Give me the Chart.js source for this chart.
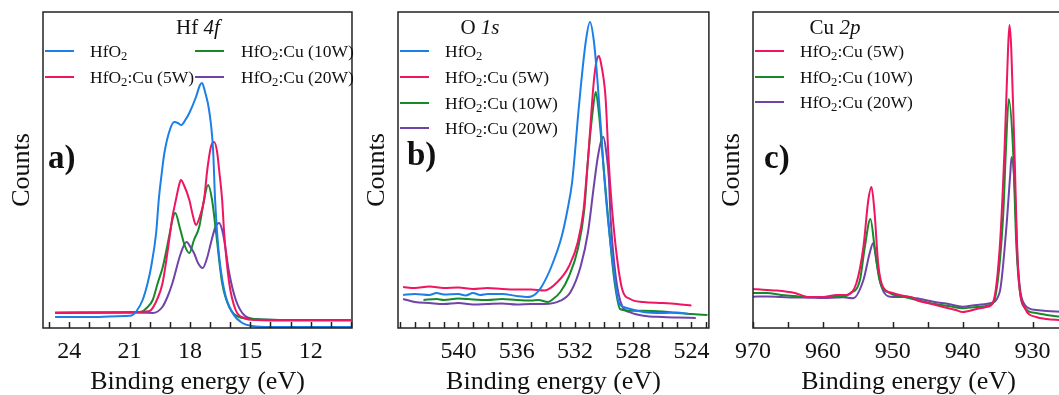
<!DOCTYPE html>
<html>
<head>
<meta charset="utf-8">
<script src="https://cdn.jsdelivr.net/npm/chart.js@4.4.1/dist/chart.umd.min.js"></script>
<style>
  html, body { margin: 0; padding: 0; overflow: hidden; }
  body { position: relative; width: 1059px; height: 395px; background: #fff; font-family: "Liberation Serif", "Times New Roman", serif; color: #111; }
  canvas { position: absolute; top: 0; }
  .txt { position: absolute; white-space: nowrap; line-height: 20px; height: 20px; }
  .sw { position: absolute; height: 2px; }
  .panel { font-weight: bold; font-size: 33px; line-height: 36px; height: 36px; }
  .ttl { font-size: 21px; transform: translateX(-50%); }
  .leg { font-size: 17.5px; }
  sub { font-size: 0.72em; vertical-align: -0.25em; line-height: 0; }
</style>
</head>
<body>
<canvas id="chartA" width="360" height="395" style="left:0px"></canvas>
<canvas id="chartB" width="360" height="395" style="left:355px"></canvas>
<canvas id="chartC" width="360" height="395" style="left:710px"></canvas>
<div id="overlay"></div>
<script>
// series names and colours
const names = ['HfO₂', 'HfO₂:Cu (5W)', 'HfO₂:Cu (10W)', 'HfO₂:Cu (20W)'];
const colors = ['#1c7fe8', '#ef1560', '#168a2a', '#7043a8'];

// tick labels shown on each x axis
const hfTicks = [24, 21, 18, 15, 12];
const oTicks = [540, 536, 532, 528, 524];
const cuTicks = [970, 960, 950, 940, 930];

// a) Hf 4f  (binding energy eV, counts a.u.)
const hfE0 = [24.7, 23, 22, 21.2, 20.9, 20.65, 20.35, 20.1, 19.93, 19.68, 19.55, 19.4, 19.27, 19.0, 18.78, 18.6, 18.43, 18.2, 18.03, 17.7, 17.5, 17.4, 17.25, 17.05, 16.85, 16.75, 16.58, 16.3, 15.88, 15.4, 14.9, 14, 12, 10];
const hfC0 = [11, 11, 11.5, 12, 12.5, 17, 28, 45, 61, 95, 128, 155, 175, 198, 206, 205, 203, 209, 215, 231, 243, 245, 236, 218, 178, 128, 78, 38, 15, 5, 2, 1, 1, 1];
const hfE1 = [24.7, 22, 20.6, 20.2, 20.0, 19.6, 19.36, 19.1, 18.87, 18.7, 18.55, 18.45, 18.3, 18.03, 17.85, 17.7, 17.5, 17.3, 17.14, 16.96, 16.8, 16.65, 16.55, 16.4, 16.3, 16.05, 15.73, 15.3, 14.73, 13, 10];
const hfC1 = [15, 15.5, 16, 16.5, 17, 30, 45, 78, 111, 128, 142, 148, 143, 128, 112, 103, 112, 128, 158, 181, 186, 176, 158, 128, 95, 45, 18, 10, 8, 7.5, 7.5];
const hfE2 = [24.7, 22, 20.6, 20.4, 20.15, 19.85, 19.6, 19.35, 19.0, 18.85, 18.73, 18.5, 18.25, 18.03, 17.8, 17.54, 17.3, 17.1, 16.9, 16.7, 16.4, 16.05, 15.55, 14.9, 13, 10];
const hfC2 = [15, 15.5, 16, 16.3, 20, 28, 45, 61, 95, 110, 115, 100, 82, 75, 88, 101, 128, 143, 128, 95, 45, 21, 11, 9, 8, 8];
const hfE3 = [24.7, 22, 20.3, 19.85, 19.37, 19.1, 18.87, 18.45, 18.17, 17.95, 17.8, 17.6, 17.37, 17.15, 16.96, 16.75, 16.55, 16.4, 16.3, 16.05, 15.72, 15.31, 14.73, 13, 10];
const hfC3 = [15.5, 15.5, 15.3, 15, 21, 32, 45, 75, 86, 80, 75, 65, 60, 70, 85, 100, 105, 98, 88, 55, 28, 13, 9, 8, 8];

// b) O 1s
const oE0 = [543.8, 543, 542, 541.5, 541, 540, 539.5, 539, 538.5, 538, 537, 536, 535.3, 535, 534.7, 534.3, 533.6, 532.9, 532.5, 532.2, 532.0, 531.8, 531.6, 531.25, 530.97, 530.7, 530.45, 530.2, 530.05, 529.8, 529.35, 529, 528.65, 528.2, 527.3, 526, 525, 524.2];
const oC0 = [33, 34, 33, 35, 33.5, 34, 32.5, 35, 33, 34, 34, 32, 31, 31.5, 34, 41, 62, 92, 119, 145, 175, 210, 241, 287, 306, 287, 247, 197, 164, 119, 59, 26, 21, 19, 16, 15, 15.5, 14];
const oE1 = [543.8, 543, 542, 541, 540, 539, 538, 537, 536, 535, 534.1, 533.2, 532.4, 531.8, 531.4, 531.2, 531.1, 530.7, 530.5, 530.35, 530.2, 529.9, 529.67, 529.45, 529.1, 528.76, 528.2, 527.3, 526, 525, 524];
const oC1 = [41, 40, 41.5, 40, 40.5, 39, 40, 39, 38.5, 38.5, 37.5, 46, 62, 86, 119, 152, 169, 247, 268, 272, 264, 231, 164, 119, 69, 39, 29, 26, 25, 24, 22.5];
const oE2 = [542.4, 541.5, 541, 540, 539, 538, 537, 536, 535, 534.5, 533.85, 533.5, 533, 532.4, 531.8, 531.35, 531.1, 530.8, 530.57, 530.35, 530.05, 529.67, 529.33, 528.9, 528.2, 527.3, 526, 525, 524, 522.9];
const oC2 = [28, 29, 28, 29.5, 28.5, 28, 29, 28, 27.5, 28, 26, 29, 36, 52, 79, 119, 169, 214, 236, 214, 164, 102, 52, 19, 17.3, 17.3, 16.5, 15, 14, 13];
const oE3 = [543.8, 543, 542, 541, 540, 539, 538, 537, 536, 535, 534.1, 533, 532.3, 531.6, 531.1, 530.7, 530.45, 530.2, 530.05, 529.83, 529.67, 529.55, 529.2, 528.76, 528.2, 527.3, 526, 525, 523.7];
const oC3 = [29, 26, 25, 24, 25, 23.5, 24, 24.5, 23.5, 24, 24, 27.3, 36, 62, 96, 142, 169, 187, 191, 174, 150, 110, 52, 22, 15.7, 12.3, 11, 10.5, 10];

// c) Cu 2p
const cuE1 = [970, 968, 966.6, 964, 962, 960, 958, 957.1, 956.6, 955.2, 954.2, 953.5, 953.05, 952.6, 952.1, 951.4, 950, 949, 948, 947, 946.6, 945, 942.8, 941, 940, 938, 936.6, 935.7, 934.7, 934, 933.5, 933.3, 933.05, 932.6, 932.1, 931.1, 929.5, 928, 926];
const cuC1 = [39, 38, 37.5, 35, 31, 31, 33, 33, 33, 45, 81, 128, 141, 115, 65, 41, 35, 33, 31.5, 30, 28, 25, 21, 18, 16, 19, 21, 25, 80, 180, 280, 303, 280, 180, 63, 20, 11, 9, 8];
const cuE2 = [970, 968, 966, 964, 962, 960, 958, 957.1, 956.1, 954.7, 954, 953.2, 952.6, 951.9, 950.4, 949, 948, 946.6, 944, 942, 940, 938, 936.1, 935.2, 934.2, 933.8, 933.4, 932.8, 932.3, 931.4, 929.5, 928, 926];
const cuC2 = [35, 35, 33, 32, 31, 31, 31.5, 31.3, 34.7, 48, 81, 109, 81, 48, 34.7, 32, 30.5, 28, 24, 22, 19.7, 21, 23, 36, 113, 180, 229, 180, 80, 23, 15, 13, 11.3];
const cuE3 = [970, 968, 966, 964, 962, 960, 958, 957.1, 955.7, 954.2, 953.3, 952.8, 952.3, 951.6, 950.4, 949, 948, 947, 946.6, 944, 942, 940, 938, 936.1, 934.7, 933.8, 933.2, 933.0, 932.6, 932.1, 931.1, 929.5, 928, 926];
const cuC3 = [31.3, 31.5, 31, 30.5, 30.3, 30, 30.5, 30.7, 29.7, 48, 75, 85, 65, 41, 31.3, 31, 31.5, 30, 29.7, 26, 24, 21.3, 23, 24.7, 36, 96, 153, 171, 146, 63, 23, 18, 17, 16.3];

Chart.defaults.font.family = '"Liberation Serif", "Times New Roman", serif';
Chart.defaults.color = '#111';

function toPoints(xs, ys) {
    return xs.map((x, i) => ({ x: x, y: ys[i] }));
}

// box round the plot and inward tick marks
const frame = {
    id: 'frame',
    afterDraw(chart) {
        const { ctx, chartArea: a, scales: { x } } = chart;
        ctx.save();
        ctx.strokeStyle = '#222';
        ctx.lineWidth = 1.5;
        ctx.strokeRect(a.left, a.top, a.right - a.left, a.bottom - a.top);
        ctx.beginPath();
        x.ticks.forEach(t => {
            const px = Math.round(x.getPixelForValue(t.value)) + 0.5;
            ctx.moveTo(px, a.bottom);
            ctx.lineTo(px, a.bottom - 6);
        });
        ctx.stroke();
        ctx.restore();
    }
};

function makeChart(id, series, xmin, xmax, step, tickLabels, padRight) {
    const datasets = series.map(s => ({
        label: names[s[0]],
        data: toPoints(s[1], s[2]),
        borderColor: colors[s[0]],
        borderWidth: 2,
        pointRadius: 0,
        fill: false,
        cubicInterpolationMode: 'monotone'
    }));
    return new Chart(document.getElementById(id), {
        type: 'line',
        data: { datasets: datasets },
        options: {
            responsive: false,
            animation: false,
            devicePixelRatio: 1,
            layout: { padding: { top: 12, right: padRight, left: 0, bottom: 0 } },
            plugins: { legend: { display: false }, tooltip: { enabled: false } },
            scales: {
                x: {
                    type: 'linear',
                    reverse: true,
                    min: xmin,
                    max: xmax,
                    grid: { display: false, drawTicks: false },
                    border: { display: false },
                    ticks: {
                        stepSize: step,
                        includeBounds: false,
                        autoSkip: false,
                        maxRotation: 0,
                        padding: 9,
                        font: { size: 24 },
                        color: '#111',
                        callback: v => tickLabels.includes(v) ? String(v) : ''
                    },
                    title: {
                        display: true,
                        text: 'Binding energy (eV)',
                        font: { size: 26, lineHeight: 1.0 },
                        color: '#111',
                        padding: { top: 0, bottom: 0 }
                    },
                    afterFit: s => { s.height = 67; }
                },
                y: {
                    min: 0,
                    max: 316,
                    grid: { display: false, drawTicks: false },
                    border: { display: false },
                    ticks: { display: false },
                    title: {
                        display: true,
                        text: 'Counts',
                        font: { size: 26, lineHeight: 1.0 },
                        color: '#111',
                        padding: { top: 9, bottom: 0 }
                    },
                    afterFit: s => { s.width = 43; }
                }
            }
        },
        plugins: [frame]
    });
}

makeChart('chartA', [[0, hfE0, hfC0], [1, hfE1, hfC1], [2, hfE2, hfC2], [3, hfE3, hfC3]], 9.95, 25.3, 1, hfTicks, 6);
makeChart('chartB', [[0, oE0, oC0], [1, oE1, oC1], [2, oE2, oC2], [3, oE3, oC3]], 522.8, 544.15, 1, oTicks, 2);
makeChart('chartC', [[1, cuE1, cuC1], [2, cuE2, cuC2], [3, cuE3, cuC3]], 925.5, 970, 5, cuTicks, 6);

// titles, panel letters and legends as text
const overlay = document.getElementById('overlay');
function addText(cls, html, left, cy, h) {
    const d = document.createElement('div');
    d.className = 'txt ' + cls;
    d.innerHTML = html;
    d.style.left = left + 'px';
    d.style.top = (cy - (h || 10)) + 'px';
    overlay.appendChild(d);
}
function legendItem(i, x, cy, textX) {
    const s = document.createElement('div');
    s.className = 'sw';
    s.style.left = x + 'px';
    s.style.width = '29px';
    s.style.top = (cy - 1) + 'px';
    s.style.background = colors[i];
    overlay.appendChild(s);
    addText('leg', names[i].replace('₂', '<sub>2</sub>'), textX, cy);
}

addText('ttl', 'Hf <i>4f</i>', 198, 27);
addText('ttl', 'O <i>1s</i>', 480, 27);
addText('ttl', 'Cu <i>2p</i>', 835, 27);
addText('panel', 'a)', 48, 157, 18);
addText('panel', 'b)', 407, 154, 18);
addText('panel', 'c)', 764, 157, 18);

legendItem(0, 45, 51, 90);
legendItem(1, 45, 76.5, 90);
legendItem(2, 195, 51, 241);
legendItem(3, 195, 76.5, 241);

[0, 1, 2, 3].forEach((i, k) => legendItem(i, 400, 51 + k * 25.8, 445));
[1, 2, 3].forEach((i, k) => legendItem(i, 755, 51 + k * 25.5, 800));
</script>
</body>
</html>
